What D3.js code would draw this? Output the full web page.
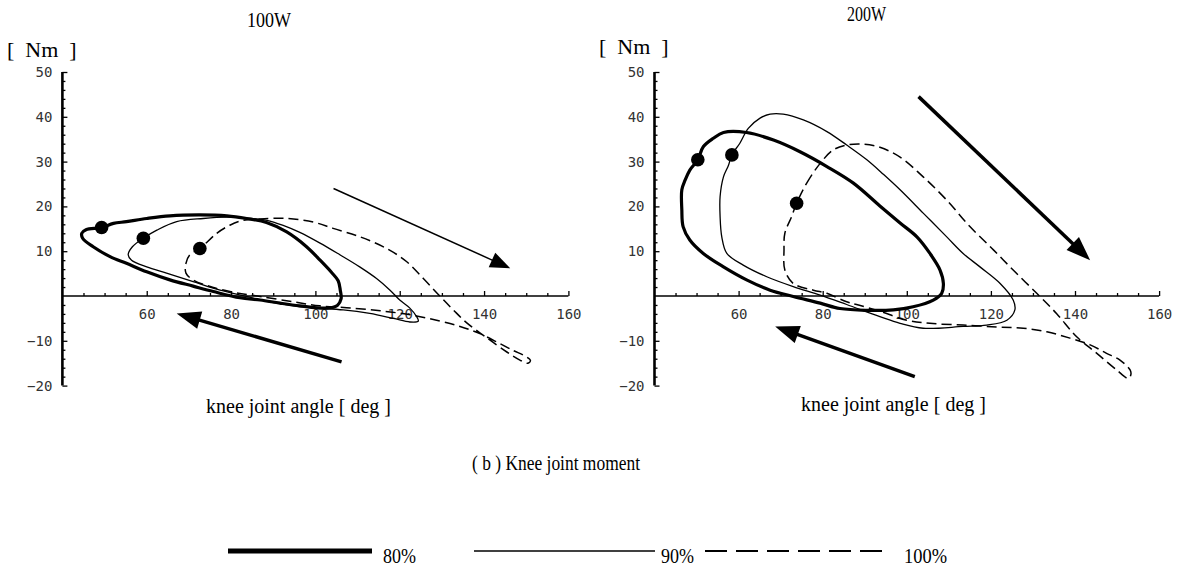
<!DOCTYPE html>
<html>
<head>
<meta charset="utf-8">
<script src="https://cdn.jsdelivr.net/npm/d3@7"></script>
<style>
  body { margin: 0; background: #fff; }
  svg { display: block; }
  .serif { font-family: "Liberation Serif", "Times New Roman", serif; fill: #000; white-space: pre; }
  .tick text { font-family: "DejaVu Sans Mono", monospace; font-size: 14px; fill: #333; }
</style>
</head>
<body>
<svg id="chart" width="1188" height="568"></svg>
<script>
// Knee joint moment [Nm] plotted against knee joint angle [deg]:
// one closed loop per pedalling condition, for 100 W and 200 W.
const seriesNames = ["80%", "90%", "100%"];
const panelTitles = ["100W", "200W"];
const xTickValues = [60, 80, 100, 120, 140, 160];
const yTickValues = [-20, -10, 10, 20, 30, 40, 50];

// 100 W loops, [angle, moment]; the first point of each loop is the marked start
const loop100W_80 = [[49.3,15.3],[52.1,16.2],[55.2,16.6],[60,17.3],[65.5,17.9],[72.6,18.1],[79,17.9],[83.7,17.3],[88.4,16.4],[93.2,14.3],[97.9,11.0],[101.1,8.0],[103.8,5.3],[105.4,3.4],[105.9,1.3],[106.1,-0.6],[105.2,-2.1],[102.7,-2.7],[96.3,-2.2],[91.6,-1.6],[86.9,-0.9],[82.1,-0.4],[75.8,1.0],[71,2.2],[65.5,3.6],[60,5.4],[55.2,7.3],[51.3,8.8],[47.3,11.0],[44.8,12.9],[44.6,14.0],[45.6,14.8]];
const loop100W_90 = [[59.2,12.9],[62.4,14.7],[67.1,16.6],[73.4,17.3],[79,17.6],[83.7,17.4],[88.5,16.9],[92.5,15.7],[96.3,14.2],[101.1,11.8],[105.8,9.2],[110.5,6.5],[114.5,3.9],[117.7,1.3],[120,-0.9],[122.4,-2.7],[124,-4.6],[124.4,-5.6],[122.4,-5.8],[118.5,-5.0],[112.9,-3.9],[106.6,-3.1],[98.7,-2.6],[93,-1.9],[88,-1.1],[83.7,-0.1],[77.4,1.3],[71,3.2],[64.7,5.1],[60,6.5],[56.4,8.0],[55.6,9.2],[56.6,11.0]];
const loop100W_100 = [[72.6,10.6],[76.6,14.0],[79.7,15.8],[82.5,16.8],[86.9,17.2],[93.2,17.3],[99.5,16.5],[104.2,15.1],[110.6,13.2],[116.9,10.6],[121.6,7.7],[125.6,3.9],[129.5,0.0],[132.7,-3.1],[135.9,-6.0],[140.6,-9.3],[145.4,-12.5],[148.5,-14.3],[150.4,-15.0],[151.0,-14.4],[149.5,-13.3],[147,-12.2],[143.7,-10.6],[139,-8.4],[134.3,-6.8],[129.5,-5.6],[123.2,-4.3],[115.4,-3.3],[107.4,-2.6],[101,-2.2],[94.8,-1.3],[86.9,-0.1],[81.3,0.7],[75.8,1.9],[71,3.6],[69.3,5.1],[69.3,7.3],[70.2,9.2]];

// 200 W loops
const loop200W_80 = [[50.3,30.4],[51.6,33.3],[54,35.2],[56.4,36.5],[61.9,36.5],[68.3,34.8],[74.6,32.2],[81,28.9],[87.3,25.2],[93.6,20.1],[98.4,16.3],[102.4,13.2],[105.5,9.5],[107.9,5.8],[108.7,2.8],[108.3,0.6],[106.3,-0.9],[101.5,-2.4],[96.8,-3.1],[90.5,-3.2],[84.1,-2.8],[79.4,-1.6],[73,-0.1],[67.5,1.3],[61.9,3.6],[56.4,6.5],[51.6,9.5],[48.4,12.5],[46.8,15.5],[46.5,19.2],[46.5,23.7],[47.3,25.9],[48.4,28.1]];
const loop200W_90 = [[58.4,31.5],[60.3,34.1],[62.3,37.4],[65.1,39.7],[67.5,40.6],[70.6,40.6],[75.4,39.3],[81,36.7],[85.7,33.7],[90.5,30.4],[94.5,27.1],[98.4,23.7],[103.9,18.5],[109.5,13.2],[113.4,9.5],[117.4,6.5],[122.2,2.8],[125.3,-0.9],[125.7,-3.1],[123.8,-5.4],[119,-6.5],[113.4,-6.8],[103.9,-7.2],[98.4,-6.1],[93.6,-4.6],[85.7,-1.9],[79.4,0.2],[73,2.1],[66.7,4.3],[61.1,6.9],[57.2,9.5],[56,13.2],[55.6,17.7],[55.6,22.2],[56.4,26.6],[57.6,29.2]];
const loop200W_100 = [[73.8,20.7],[76.2,25.2],[79.4,29.6],[82.5,32.6],[85.7,33.7],[89.7,33.9],[93.6,33.2],[98.4,31.0],[103.9,26.6],[109.5,21.4],[115,15.5],[120.6,10.3],[125.3,5.8],[130.9,0.6],[135.6,-3.9],[140.4,-9.1],[145.2,-12.8],[149.9,-16.5],[152.7,-18.4],[153.3,-17.5],[153.1,-16.5],[150.7,-14.3],[147.5,-12.8],[143.6,-10.9],[138.8,-9.4],[133.3,-8.0],[127.7,-7.2],[121.4,-6.9],[113.4,-6.5],[105.5,-6.1],[100,-5.4],[93.6,-3.4],[88.5,-2.0],[85.7,-1.3],[81,0.6],[77.8,1.3],[73,2.8],[71,5.8],[70.8,10.3],[71,14.0],[72.6,17.7]];

// direction arrows [from, to] in [angle, moment]
const arrows100W = [[[104.3,24.0],[146.2,6.2]], [[106.2,-14.7],[67.1,-3.9]]];
const arrows200W = [[[102.8,44.5],[143.6,8.0]], [[101.9,-18.0],[68.7,-6.8]]];

const panels = [
  { title: panelTitles[0], loops: [loop100W_80, loop100W_90, loop100W_100], arrows: arrows100W,
    arrowWidths: [1.5, 3.5], range: [62.4, 568.4],
    titlePos: [247, 27], titleLen: 44, unitPos: [7, 57], axisTitlePos: [206, 413] },
  { title: panelTitles[1], loops: [loop200W_80, loop200W_90, loop200W_100], arrows: arrows200W,
    arrowWidths: [3.5, 3.5], range: [654.5, 1159.1],
    titlePos: [847, 21], titleLen: 39, unitPos: [599, 54], axisTitlePos: [801, 411] }
];

const seriesStyles = [
  { width: 3.2, dash: null },
  { width: 1.3, dash: null },
  { width: 1.5, dash: "10,5" }
];

const svg = d3.select("#chart");
const y = d3.scaleLinear().domain([-20, 50]).range([385.6, 72]);

function arrowHead(p0, p1, len, half) {
  const a = Math.atan2(p1[1] - p0[1], p1[0] - p0[0]);
  const bx = p1[0] - len * Math.cos(a), by = p1[1] - len * Math.sin(a);
  const nx = -Math.sin(a) * half, ny = Math.cos(a) * half;
  return [[p1[0], p1[1]], [bx + nx, by + ny], [bx - nx, by - ny]];
}

panels.forEach(p => {
  const x = d3.scaleLinear().domain([40, 160]).range(p.range);
  const g = svg.append("g");

  // x axis: minor ticks every 5 deg, labelled ticks every 20 deg
  const gxMinor = g.append("g").attr("transform", `translate(0,${y(0)})`)
    .call(d3.axisBottom(x).tickValues(d3.range(45, 161, 5).filter(v => v % 20 !== 0)).tickSize(-3).tickFormat(""));
  const gx = g.append("g").attr("transform", `translate(0,${y(0)})`)
    .call(d3.axisBottom(x).tickValues(xTickValues).tickSize(-5).tickPadding(13).tickFormat(d3.format("d")));
  [gxMinor, gx].forEach(s => { s.select(".domain").remove(); s.selectAll("line").attr("stroke", "#000").attr("stroke-width", 1.3); });
  g.append("line").attr("x1", x(40)).attr("x2", x(160)).attr("y1", y(0)).attr("y2", y(0))
    .attr("stroke", "#000").attr("stroke-width", 1.7);

  // y axis: minor ticks every 2 Nm, labelled ticks every 10 Nm
  const gyMinor = g.append("g").attr("transform", `translate(${x(40)},0)`)
    .call(d3.axisLeft(y).tickValues(d3.range(-20, 51, 2).filter(v => v % 10 !== 0)).tickSize(-3).tickFormat(""));
  const gy = g.append("g").attr("transform", `translate(${x(40)},0)`)
    .call(d3.axisLeft(y).tickValues(yTickValues).tickSize(-5).tickPadding(10).tickFormat(d3.format("d")));
  [gyMinor, gy].forEach(s => { s.select(".domain").remove(); s.selectAll("line").attr("stroke", "#000").attr("stroke-width", 1.3); });
  g.append("line").attr("x1", x(40)).attr("x2", x(40)).attr("y1", y(-20)).attr("y2", y(50))
    .attr("stroke", "#000").attr("stroke-width", 2.6);

  // loops
  const line = d3.line().x(d => x(d[0])).y(d => y(d[1])).curve(d3.curveCatmullRomClosed.alpha(0.5));
  p.loops.forEach((loop, i) => {
    const st = seriesStyles[i];
    g.append("path").attr("d", line(loop)).attr("fill", "none").attr("stroke", "#000")
      .attr("stroke-width", st.width).attr("stroke-linejoin", "round")
      .attr("stroke-dasharray", st.dash);
  });
  // start markers
  g.selectAll("circle.start").data(p.loops).join("circle").attr("class", "start")
    .attr("cx", d => x(d[0][0])).attr("cy", d => y(d[0][1])).attr("r", 6.8).attr("fill", "#000");

  // arrows
  p.arrows.forEach((a, i) => {
    const p0 = [x(a[0][0]), y(a[0][1])], p1 = [x(a[1][0]), y(a[1][1])];
    const w = p.arrowWidths[i];
    const len = w > 2 ? 24 : 20, half = w > 2 ? 9 : 8;
    const ang = Math.atan2(p1[1] - p0[1], p1[0] - p0[0]);
    g.append("line").attr("x1", p0[0]).attr("y1", p0[1])
      .attr("x2", p1[0] - (len - 2) * Math.cos(ang)).attr("y2", p1[1] - (len - 2) * Math.sin(ang))
      .attr("stroke", "#000").attr("stroke-width", w);
    g.append("polygon").attr("points", arrowHead(p0, p1, len, half).map(q => q.join(",")).join(" ")).attr("fill", "#000");
  });

  // texts
  g.append("text").attr("class", "serif").attr("x", p.titlePos[0]).attr("y", p.titlePos[1])
    .attr("font-size", 20).attr("textLength", p.titleLen).attr("lengthAdjust", "spacingAndGlyphs").text(p.title);
  g.append("text").attr("class", "serif").attr("x", p.unitPos[0]).attr("y", p.unitPos[1])
    .attr("font-size", 22).text("[  Nm  ]");
  g.append("text").attr("class", "serif").attr("x", p.axisTitlePos[0]).attr("y", p.axisTitlePos[1])
    .attr("font-size", 20).text("knee joint angle [ deg ]");
});

// caption
svg.append("text").attr("class", "serif").attr("x", 472).attr("y", 470)
  .attr("font-size", 20).attr("textLength", 168).attr("lengthAdjust", "spacingAndGlyphs")
  .text("( b ) Knee joint moment");

// legend
const legendItems = [
  { x0: 228, x1: 372, tx: 383, tl: 33, width: 5, dash: null },
  { x0: 474, x1: 655, tx: 661, tl: 33, width: 1.6, dash: null },
  { x0: 705, x1: 890, tx: 904, tl: 43, width: 2, dash: "22,9" }
];
const lg = svg.append("g");
legendItems.forEach((it, i) => {
  lg.append("line").attr("x1", it.x0).attr("x2", it.x1).attr("y1", 551).attr("y2", 551)
    .attr("stroke", "#000").attr("stroke-width", it.width).attr("stroke-dasharray", it.dash);
  lg.append("text").attr("class", "serif").attr("x", it.tx).attr("y", 563)
    .attr("font-size", 22).attr("textLength", it.tl).attr("lengthAdjust", "spacingAndGlyphs")
    .text(seriesNames[i]);
});
</script>
</body>
</html>
